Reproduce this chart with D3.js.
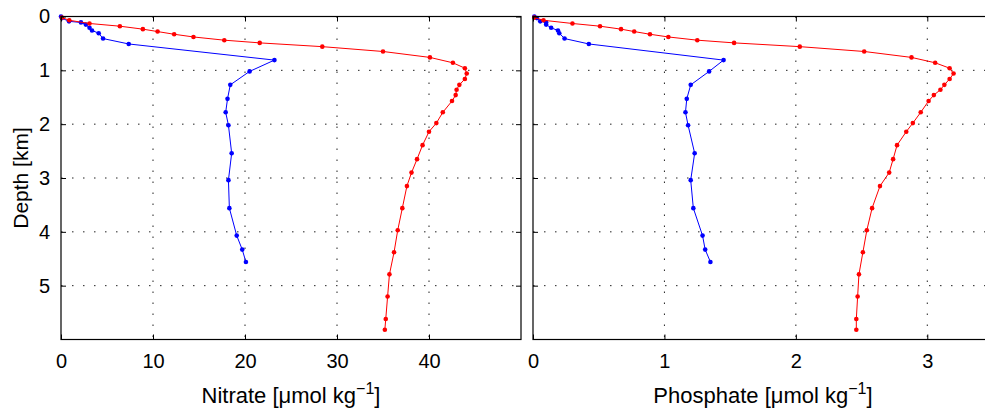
<!DOCTYPE html>
<html>
<head>
<meta charset="utf-8">
<script src="https://cdn.jsdelivr.net/npm/d3@7"></script>
<style>
  body { margin: 0; background: #fff; }
  text { font-family: "Liberation Sans", Arial, Helvetica, sans-serif; fill: #000; }
</style>
</head>
<body>
<script>
// depth [km] of each sample
const redDepth = [0.02, 0.07, 0.13, 0.18, 0.235, 0.28, 0.33, 0.38, 0.44, 0.49, 0.56, 0.65, 0.76, 0.86, 0.96,
  1.06, 1.16, 1.27, 1.36, 1.46, 1.57, 1.78, 1.98, 2.14, 2.39, 2.65, 2.9, 3.15, 3.56, 3.97, 4.38, 4.79, 5.2, 5.62, 5.82];
const redNitrate = [0.1, 0.9, 3.1, 6.4, 8.9, 10.5, 12.3, 14.4, 17.75, 21.6, 28.4, 35.0, 40.1, 42.6, 43.9,
  44.1, 43.9, 43.3, 43.0, 42.9, 42.5, 41.5, 40.8, 40.0, 39.3, 38.7, 38.1, 37.6, 37.1, 36.6, 36.2, 35.7, 35.5, 35.3, 35.2];
const redPhosphate = [0.01, 0.08, 0.30, 0.51, 0.67, 0.77, 0.89, 1.03, 1.25, 1.53, 2.03, 2.52, 2.88, 3.06, 3.17,
  3.20, 3.17, 3.13, 3.10, 3.05, 3.01, 2.95, 2.89, 2.84, 2.77, 2.74, 2.71, 2.64, 2.58, 2.54, 2.51, 2.48, 2.47, 2.46, 2.46];

const blueDepth = [0.0, 0.03, 0.09, 0.11, 0.15, 0.21, 0.26, 0.31, 0.41, 0.51, 0.81, 1.02,
  1.27, 1.53, 1.78, 2.02, 2.54, 3.04, 3.56, 4.07, 4.33, 4.56];
const blueNitrate = [0.0, 0.1, 0.87, 2.17, 2.7, 3.1, 3.37, 4.1, 4.57, 7.36, 23.2, 20.5,
  18.4, 18.1, 17.9, 18.2, 18.55, 18.2, 18.3, 19.1, 19.7, 20.1];
const bluePhosphate = [0.01, 0.03, 0.055, 0.1, 0.1, 0.138, 0.19, 0.2, 0.24, 0.425, 1.45, 1.34,
  1.20, 1.17, 1.16, 1.18, 1.23, 1.20, 1.22, 1.29, 1.31, 1.35];

const depthTicks = [0, 1, 2, 3, 4, 5];
const nitrateTicks = [0, 10, 20, 30, 40];
const phosphateTicks = [0, 1, 2, 3];

const W = 985, H = 415;
const plotTop = 16.5, plotBottom = 339.5;

const svg = d3.select('body').append('svg')
    .attr('width', W)
    .attr('height', H);

const y = d3.scaleLinear().domain([0, 6]).range([plotTop, plotBottom]);

function panel(x0, x1, domain, ticks, label, series, showY) {
  const x = d3.scaleLinear().domain(domain).range([x0, x1]);
  const g = svg.append('g');

  // dotted grid
  g.selectAll('.gx')
    .data(ticks.filter(t => t > domain[0] && t < domain[1]))
    .enter().append('line')
    .attr('x1', d => x(d)).attr('x2', d => x(d))
    .attr('y1', plotTop).attr('y2', plotBottom)
    .attr('stroke', '#222').attr('stroke-width', 1)
    .attr('stroke-dasharray', '1.5,9.5');
  g.selectAll('.gy')
    .data(depthTicks.filter(t => t > 0))
    .enter().append('line')
    .attr('x1', x0).attr('x2', x1)
    .attr('y1', d => y(d)).attr('y2', d => y(d))
    .attr('stroke', '#222').attr('stroke-width', 1)
    .attr('stroke-dasharray', '1.5,9.5');

  // data
  series.forEach(s => {
    const pts = s.depth.map((d, i) => [s.val[i], d]);
    g.append('path')
      .datum(pts)
      .attr('fill', 'none')
      .attr('stroke', s.color)
      .attr('stroke-width', 1)
      .attr('d', d3.line().x(d => x(d[0])).y(d => y(d[1])));
    g.selectAll(null)
      .data(pts)
      .enter().append('circle')
      .attr('cx', d => x(d[0]))
      .attr('cy', d => y(d[1]))
      .attr('r', 2.3)
      .attr('fill', s.color);
  });

  // axes, ticks pointing inward like MATLAB
  const tickLen = 5;
  g.append('g')
    .attr('transform', `translate(0,${plotBottom})`)
    .call(d3.axisBottom(x).tickValues(ticks).tickSize(-tickLen).tickPadding(14).tickFormat(d3.format('d')))
    .call(a => a.select('.domain').remove())
    .selectAll('text').style('font-size', '20px').style('font-family', '"Liberation Sans", Arial, sans-serif');
  g.append('g')
    .attr('transform', `translate(0,${plotTop})`)
    .call(d3.axisTop(x).tickValues(ticks).tickSize(-tickLen).tickFormat(''))
    .call(a => a.select('.domain').remove());

  const yl = g.append('g')
    .attr('transform', `translate(${x0},0)`)
    .call(d3.axisLeft(y).tickValues(depthTicks).tickSize(-tickLen).tickPadding(11).tickFormat(showY ? d3.format('d') : ''))
    .call(a => a.select('.domain').remove());
  yl.selectAll('text').style('font-size', '20px').style('font-family', '"Liberation Sans", Arial, sans-serif');
  g.append('g')
    .attr('transform', `translate(${x1},0)`)
    .call(d3.axisRight(y).tickValues(depthTicks).tickSize(-tickLen).tickFormat(''))
    .call(a => a.select('.domain').remove());

  g.append('rect')
    .attr('x', x0).attr('y', plotTop)
    .attr('width', x1 - x0).attr('height', plotBottom - plotTop)
    .attr('fill', 'none').attr('stroke', '#000').attr('stroke-width', 1.2);

  const t = g.append('text')
    .attr('x', (x0 + x1) / 2)
    .attr('y', 403)
    .attr('text-anchor', 'middle')
    .style('font-size', '22px');
  t.append('tspan').text(label + ' [\u03bcmol kg');
  t.append('tspan').attr('dy', -9).style('font-size', '16px').text('\u22121');
  t.append('tspan').attr('dy', 9).text(']');
}

panel(61, 521, [0, 50], nitrateTicks, 'Nitrate', [
  { depth: blueDepth, val: blueNitrate, color: '#0000ff' },
  { depth: redDepth, val: redNitrate, color: '#ff0000' }
], true);

panel(533, 993, [0, 3.5], phosphateTicks, 'Phosphate', [
  { depth: blueDepth, val: bluePhosphate, color: '#0000ff' },
  { depth: redDepth, val: redPhosphate, color: '#ff0000' }
], false);

svg.append('text')
  .attr('transform', `translate(28,${(plotTop + plotBottom) / 2}) rotate(-90)`)
  .attr('text-anchor', 'middle')
  .style('font-size', '21px')
  .text('Depth [km]');
</script>
</body>
</html>
